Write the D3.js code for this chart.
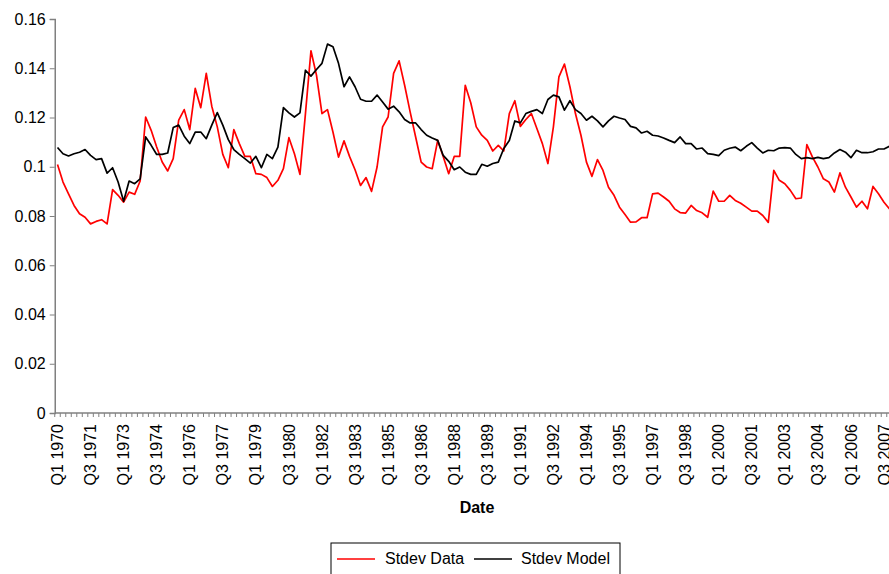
<!DOCTYPE html>
<html>
<head>
<meta charset="utf-8">
<script src="https://cdn.jsdelivr.net/npm/d3@7"></script>
<style>
  body { margin: 0; background: #fff; }
  svg { display: block; font-family: Arial, "Liberation Sans", sans-serif; }
</style>
</head>
<body>
<svg id="chart" width="889" height="574"></svg>
<script>
// quarters Q1 1970 .. Q4 2007
const quarters = d3.range(1970, 2008).flatMap(y => [1, 2, 3, 4].map(q => `Q${q} ${y}`));

const stdevData = [
  0.1009, 0.0938, 0.0890, 0.0843, 0.0809, 0.0795, 0.0768, 0.0778, 0.0785, 0.0768,
  0.0907, 0.0884, 0.0856, 0.0897, 0.0888, 0.0942, 0.1202, 0.1148, 0.1080, 0.1019,
  0.0983, 0.1033, 0.1189, 0.1232, 0.1151, 0.1318, 0.1240, 0.1379, 0.1246, 0.1162,
  0.1050, 0.0996, 0.1151, 0.1094, 0.1042, 0.1042, 0.0972, 0.0969, 0.0956, 0.0920,
  0.0945, 0.0992, 0.1118, 0.1053, 0.0969, 0.1216, 0.1471, 0.1372, 0.1216, 0.1232,
  0.1140, 0.1039, 0.1105, 0.1042, 0.0988, 0.0924, 0.0956, 0.0900, 0.0999, 0.1162,
  0.1202, 0.1379, 0.1430, 0.1331, 0.1223, 0.1121, 0.1019, 0.0999, 0.0992, 0.1107,
  0.1042, 0.0972, 0.1042, 0.1042, 0.1331, 0.1260, 0.1162, 0.1128, 0.1107, 0.1064,
  0.1087, 0.1064, 0.1216, 0.1268, 0.1164, 0.1192, 0.1216, 0.1155, 0.1094, 0.1013,
  0.1162, 0.1365, 0.1417, 0.1325, 0.1216, 0.1128, 0.1019, 0.0961, 0.1029, 0.0985,
  0.0917, 0.0884, 0.0836, 0.0806, 0.0775, 0.0776, 0.0793, 0.0793, 0.0890, 0.0893,
  0.0877, 0.0860, 0.0829, 0.0814, 0.0812, 0.0843, 0.0822, 0.0813, 0.0795, 0.0901,
  0.0860, 0.0860, 0.0884, 0.0863, 0.0852, 0.0836, 0.0820, 0.0820, 0.0802, 0.0774,
  0.0985, 0.0945, 0.0931, 0.0904, 0.0870, 0.0873, 0.1090, 0.1040, 0.0999, 0.0951,
  0.0938, 0.0897, 0.0975, 0.0917, 0.0877, 0.0836, 0.0860, 0.0829, 0.0920, 0.0890,
  0.0856, 0.0829
];

const stdevModel = [
  0.1078, 0.1053, 0.1044, 0.1053, 0.1059, 0.1070, 0.1046, 0.1029, 0.1033, 0.0974,
  0.0996, 0.0938, 0.0860, 0.0942, 0.0931, 0.0951, 0.1121, 0.1087, 0.1050, 0.1050,
  0.1056, 0.1159, 0.1169, 0.1124, 0.1094, 0.1141, 0.1141, 0.1114, 0.1169, 0.1220,
  0.1169, 0.1110, 0.1070, 0.1050, 0.1033, 0.1015, 0.1042, 0.0996, 0.1050, 0.1033,
  0.1080, 0.1240, 0.1219, 0.1202, 0.1219, 0.1392, 0.1368, 0.1395, 0.1420, 0.1498,
  0.1487, 0.1420, 0.1325, 0.1365, 0.1325, 0.1274, 0.1266, 0.1266, 0.1291, 0.1263,
  0.1234, 0.1246, 0.1223, 0.1192, 0.1178, 0.1178, 0.1151, 0.1128, 0.1117, 0.1107,
  0.1046, 0.1022, 0.0988, 0.0999, 0.0978, 0.0969, 0.0969, 0.1010, 0.1002, 0.1013,
  0.1019, 0.1074, 0.1107, 0.1186, 0.1178, 0.1216, 0.1225, 0.1232, 0.1216, 0.1273,
  0.1291, 0.1284, 0.1230, 0.1268, 0.1232, 0.1216, 0.1189, 0.1205, 0.1186, 0.1162,
  0.1186, 0.1205, 0.1198, 0.1192, 0.1164, 0.1158, 0.1137, 0.1144, 0.1128, 0.1125,
  0.1117, 0.1107, 0.1098, 0.1121, 0.1094, 0.1094, 0.1072, 0.1076, 0.1053, 0.1050,
  0.1045, 0.1067, 0.1075, 0.1080, 0.1065, 0.1083, 0.1098, 0.1076, 0.1056, 0.1067,
  0.1065, 0.1076, 0.1078, 0.1076, 0.1050, 0.1033, 0.1037, 0.1033, 0.1038, 0.1033,
  0.1037, 0.1056, 0.1070, 0.1059, 0.1037, 0.1067, 0.1057, 0.1057, 0.1061, 0.1072,
  0.1072, 0.1083
];

const yTicks = [0, 0.02, 0.04, 0.06, 0.08, 0.1, 0.12, 0.14, 0.16];
const seriesNames = ['Stdev Data', 'Stdev Model'];
const seriesColors = ['#ff0000', '#000000'];

const svg = d3.select('#chart');
const step = 5.51, x0 = 57.5;

const x = d3.scaleLinear().domain([0, 1]).range([x0, x0 + step]);
const y = d3.scaleLinear().domain([0, 0.16]).range([413, 19]);

// ── axes ──
const xLeft = x(-0.5), xRight = x(quarters.length - 0.5);

const yAxis = svg.append('g')
  .attr('transform', `translate(${xLeft},0)`)
  .call(d3.axisLeft(y).tickValues(yTicks).tickSize(5).tickPadding(4)
    .tickFormat(d => d === 0 ? '0' : String(+d.toFixed(2))));
yAxis.select('.domain').attr('stroke', '#808080').attr('stroke-width', 1.5);
yAxis.selectAll('.tick line').attr('stroke', '#808080');
yAxis.selectAll('.tick text').attr('font-size', 16).attr('fill', '#000')
  .attr('font-family', 'Arial, "Liberation Sans", sans-serif');

const xg = svg.append('g');
xg.append('line').attr('x1', xLeft).attr('x2', xRight)
  .attr('y1', y(0)).attr('y2', y(0)).attr('stroke', '#808080').attr('stroke-width', 1.5);
xg.selectAll('line.qtick').data(d3.range(quarters.length + 1)).join('line')
  .attr('class', 'qtick')
  .attr('x1', i => x(i - 0.5)).attr('x2', i => x(i - 0.5))
  .attr('y1', y(0)).attr('y2', y(0) + 4)
  .attr('stroke', '#808080');

xg.selectAll('text.qlab').data(d3.range(0, quarters.length, 6)).join('text')
  .attr('class', 'qlab')
  .attr('transform', i => `translate(${x(i)},${y(0) + 11}) rotate(-90)`)
  .attr('text-anchor', 'end').attr('dy', '0.35em')
  .attr('font-size', 16)
  .text(i => quarters[i]);

svg.append('text').attr('x', 477).attr('y', 512.5)
  .attr('text-anchor', 'middle').attr('font-size', 16).attr('font-weight', 'bold')
  .text('Date');

// ── lines ──
const line = d3.line().x((d, i) => x(i)).y(d => y(d));
[stdevData, stdevModel].forEach((vals, k) => {
  svg.append('path').datum(vals)
    .attr('fill', 'none').attr('stroke', seriesColors[k])
    .attr('stroke-width', 1.7).attr('stroke-linejoin', 'round')
    .attr('d', line);
});

// ── legend ──
const lg = svg.append('g').attr('transform', 'translate(331,543)');
lg.append('rect').attr('width', 289).attr('height', 40)
  .attr('fill', '#fff').attr('stroke', '#000').attr('stroke-width', 1);
const legendPos = [{ lx: 6, tx: 54 }, { lx: 143, tx: 190 }];
seriesNames.forEach((name, k) => {
  const p = legendPos[k];
  lg.append('line').attr('x1', p.lx).attr('x2', p.lx + 38).attr('y1', 16).attr('y2', 16)
    .attr('stroke', seriesColors[k]).attr('stroke-width', 1.7);
  lg.append('text').attr('x', p.tx).attr('y', 21).attr('font-size', 16).text(name);
});
</script>
</body>
</html>
